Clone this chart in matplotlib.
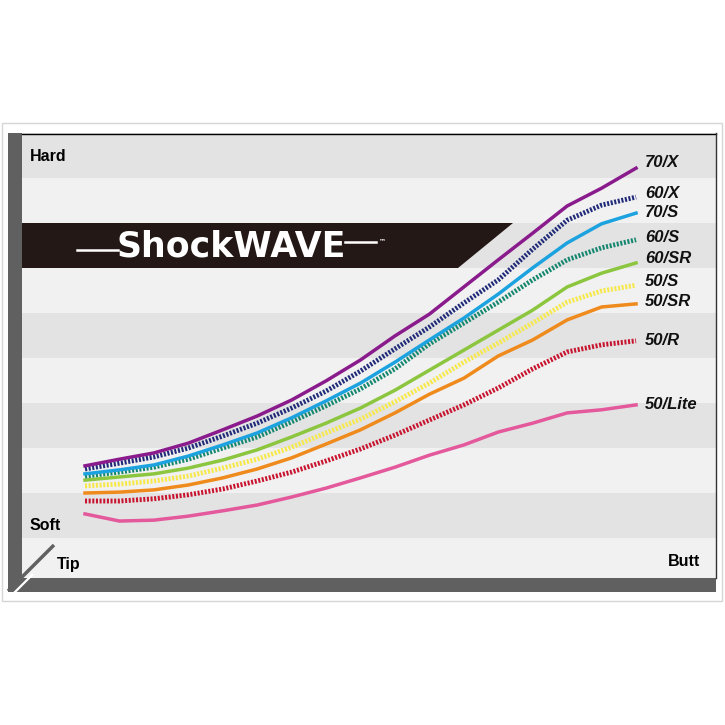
import matplotlib
matplotlib.use('Agg')
import matplotlib.pyplot as plt
import numpy as np
from matplotlib.patches import Polygon, Rectangle

# flex profile, tip -> butt, stiffness index (0 = soft, 100 = hard)
points = np.arange(17)
labels = ['50/Lite', '50/R', '50/SR', '50/S', '60/SR', '60/S', '70/S', '60/X', '70/X']
lite_50 = [14.4, 12.8, 13.0, 13.9, 15.1, 16.4, 18.2, 20.2, 22.5, 24.9, 27.6, 29.9, 32.8, 34.8, 37.1, 37.8, 38.9]
r_50 = [17.3, 17.3, 17.8, 18.7, 20.0, 21.8, 23.8, 26.3, 29.0, 32.1, 35.5, 38.9, 42.7, 47.0, 50.8, 52.4, 53.3]
sr_50 = [19.1, 19.3, 19.8, 20.9, 22.5, 24.5, 27.0, 30.1, 33.3, 37.1, 41.3, 44.9, 49.9, 53.5, 58.0, 60.9, 61.6]
s_50 = [20.7, 21.1, 21.8, 22.9, 24.7, 26.7, 29.4, 32.6, 35.7, 39.6, 43.8, 48.5, 52.8, 57.3, 62.0, 64.5, 65.8]
sr_60 = [22.0, 22.7, 23.4, 24.7, 26.5, 28.8, 31.7, 34.8, 38.2, 42.2, 46.7, 51.2, 55.7, 60.2, 65.4, 68.5, 70.8]
s_60 = [22.9, 23.8, 24.9, 26.7, 29.2, 31.7, 35.1, 38.7, 42.5, 47.0, 52.6, 57.3, 62.0, 67.0, 71.5, 74.2, 76.0]
s_70 = [23.4, 24.3, 25.4, 27.4, 29.9, 32.6, 36.0, 39.8, 43.8, 48.5, 53.5, 58.4, 63.8, 69.7, 75.3, 79.6, 82.0]
x_60 = [24.5, 25.8, 27.2, 29.2, 31.9, 34.8, 38.2, 42.0, 46.5, 51.5, 56.4, 61.8, 67.0, 73.9, 80.4, 83.8, 85.6]
x_70 = [25.2, 26.7, 28.1, 30.3, 33.3, 36.4, 40.0, 44.3, 49.0, 54.4, 59.3, 65.4, 71.5, 77.5, 83.6, 87.6, 92.1]
series = [lite_50, r_50, sr_50, s_50, sr_60, s_60, s_70, x_60, x_70]

colors = ['#e4589c', '#c8142f', '#ef8a1c', '#f6e84a', '#8cc63f', '#16876f', '#1ca3df', '#1f2a78', '#8a1b8c']
dotted = [False, True, False, True, False, True, False, True, False]
label_nudge = [0, 0, 2, 4, 4, 2, 1, 4, 6]  # pixels up from the line end

fig = plt.figure(figsize=(7.25, 7.25), dpi=100)
fig.patch.set_facecolor('white')

# chart area
ax = fig.add_axes([22 / 725, 147 / 725, 694 / 725, 445 / 725], zorder=1)
ax.set_xlim(-63 / 34.44, 631 / 34.44)
ax.set_ylim(0, 100)
ax.axis('off')
ax.add_patch(Rectangle((0, 0), 1, 1, transform=ax.transAxes, color='#f1f1f1', zorder=0))
for k in range(0, 10, 2):
    top = 100 - 10.11 * k
    ax.axhspan(top - 10.11, top, color='#e3e3e3', zorder=0.5, lw=0)

# overlay with pixel coordinates for the frame
ov = fig.add_axes([0, 0, 1, 1], zorder=5)
ov.set_xlim(0, 725)
ov.set_ylim(725, 0)
ov.axis('off')
ov.patch.set_alpha(0)

# banner
ax.add_patch(Polygon([(22, 223), (513, 223), (458, 268), (22, 268)], closed=True,
                     facecolor='#231815', edgecolor='none', transform=ov.transData, zorder=1))
ax.text(231, 246, 'ShockWAVE', color='white', fontsize=25, fontweight='bold',
        ha='center', va='center', transform=ov.transData, zorder=1.2)
ax.plot([77, 118], [250, 250], color='white', lw=1.8, transform=ov.transData, zorder=1.2)
ax.plot([345, 376], [242, 242], color='white', lw=1.8, transform=ov.transData, zorder=1.2)
ax.text(379, 241, '™', color='white', fontsize=5, fontweight='bold', va='center',
        transform=ov.transData, zorder=1.2)

for vals, name, c, d, nudge in zip(series, labels, colors, dotted, label_nudge):
    if d:
        ax.plot(points, vals, color=c, lw=3.5, linestyle=(0, (0.42, 0.33)),
                solid_capstyle='butt', zorder=2)
    else:
        ax.plot(points, vals, color=c, lw=2.5, solid_joinstyle='miter', zorder=2)
    ax.annotate(name, xy=(points[-1], vals[-1]), xytext=(9, nudge), textcoords='offset pixels',
                ha='left', va='center', fontsize=12, fontweight='bold', fontstyle='italic',
                family='Liberation Sans', color='#111111', annotation_clip=False)

# frame
ov.add_patch(Rectangle((2, 123), 720, 478, fill=False, edgecolor='#d6d6d6', lw=1))
ov.add_patch(Rectangle((8, 133), 14, 459, color='#606060', lw=0))
ov.add_patch(Rectangle((8, 578), 708, 14, color='#606060', lw=0))
ov.plot([22, 716], [133.5, 133.5], color='black', lw=1)
ov.plot([716, 716], [133, 578], color='#333333', lw=1)
ov.plot([8, 54], [591, 545], color='#606060', lw=2.5, solid_capstyle='butt')
ov.plot([13, 33], [594, 574], color='white', lw=1.6, solid_capstyle='butt')

ov.text(30, 156, 'Hard', fontsize=11.5, fontweight='bold', family='Liberation Sans', va='center')
ov.text(30, 526, 'Soft', fontsize=11.5, fontweight='bold', family='Liberation Sans', va='center')
ov.text(57, 565, 'Tip', fontsize=11.5, fontweight='bold', family='Liberation Sans', va='center')
ov.text(668, 562, 'Butt', fontsize=11.5, fontweight='bold', family='Liberation Sans', va='center')

fig.savefig('out.png', dpi=100)
